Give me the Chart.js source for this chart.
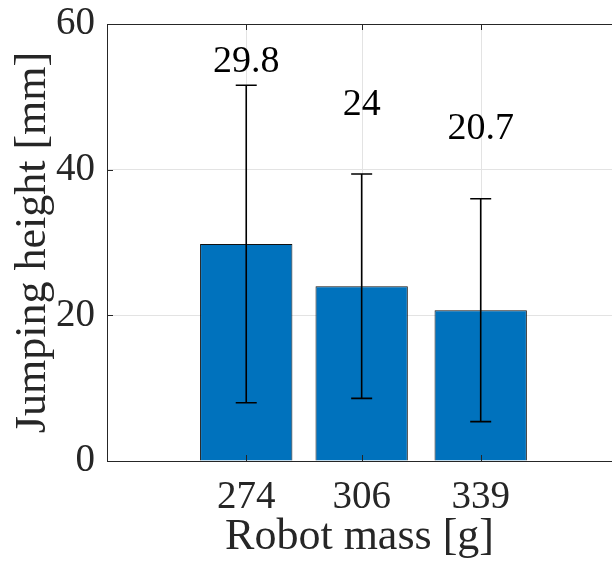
<!DOCTYPE html>
<html>
<head>
<meta charset="utf-8">
<script src="https://cdn.jsdelivr.net/npm/chart.js@4"></script>
<style>
  html, body { margin: 0; background: #fff; overflow: hidden; }
  canvas { display: block; }
</style>
</head>
<body>
<canvas id="myChart" width="612" height="569"></canvas>
<script>
let masses = [274, 306, 339];
let heights = [29.8, 24, 20.7];
let errors = [21.8, 15.4, 15.3];
let label_y = [54.8, 48.9, 45.6];
let y_ticks = [0, 20, 40, 60];

const serif = "'Liberation Serif', 'Times New Roman', serif";
const axisColor = '#262626';
const gridColor = '#e3e3e3';

// vertical grid lines behind the bars
const vgrid = {
  id: 'vgrid',
  beforeDatasetsDraw(chart) {
    const ctx = chart.ctx;
    const x = chart.scales.x;
    const area = chart.chartArea;
    ctx.save();
    ctx.strokeStyle = gridColor;
    ctx.lineWidth = 1;
    ctx.beginPath();
    masses.forEach(function(m) {
      const px = Math.round(x.getPixelForValue(m)) + 0.5;
      ctx.moveTo(px, area.top); ctx.lineTo(px, area.bottom);
    });
    ctx.stroke();
    ctx.restore();
  }
};

// error bars, value labels, top border and inner tick marks
const extras = {
  id: 'extras',
  afterDatasetsDraw(chart) {
    const ctx = chart.ctx;
    const x = chart.scales.x;
    const y = chart.scales.y;
    const area = chart.chartArea;
    ctx.save();

    ctx.strokeStyle = '#000';
    ctx.lineWidth = 1.6;
    for (let i = 0; i < masses.length; i++) {
      const px = x.getPixelForValue(masses[i]);
      const top = y.getPixelForValue(heights[i] + errors[i]);
      const bot = y.getPixelForValue(heights[i] - errors[i]);
      ctx.beginPath();
      ctx.moveTo(px, top); ctx.lineTo(px, bot);
      ctx.moveTo(px - 10.5, top); ctx.lineTo(px + 10.5, top);
      ctx.moveTo(px - 10.5, bot); ctx.lineTo(px + 10.5, bot);
      ctx.stroke();
    }

    ctx.fillStyle = '#000';
    ctx.font = '38px ' + serif;
    ctx.textAlign = 'center';
    ctx.textBaseline = 'middle';
    for (let i = 0; i < masses.length; i++) {
      ctx.fillText(String(heights[i]), x.getPixelForValue(masses[i]), y.getPixelForValue(label_y[i]));
    }

    ctx.strokeStyle = axisColor;
    ctx.lineWidth = 1;
    ctx.beginPath();
    ctx.moveTo(area.left, area.top + 0.5);
    ctx.lineTo(area.right + 5, area.top + 0.5);
    masses.forEach(function(m) {
      const px = Math.round(x.getPixelForValue(m)) + 0.5;
      ctx.moveTo(px, area.bottom); ctx.lineTo(px, area.bottom - 6);
      ctx.moveTo(px, area.top); ctx.lineTo(px, area.top + 6);
    });
    y_ticks.forEach(function(v) {
      const py = Math.round(y.getPixelForValue(v)) + 0.5;
      ctx.moveTo(area.left, py); ctx.lineTo(area.left + 6, py);
    });
    ctx.stroke();
    ctx.restore();
  }
};

let data = {
  datasets: [{
    data: masses.map(function(m, i) { return { x: m, y: heights[i] }; }),
    backgroundColor: '#0072BD',
    borderColor: '#111111',
    borderWidth: 1,
    categoryPercentage: 1,
    barPercentage: 0.8
  }]
};

let config = {
  type: 'bar',
  data: data,
  options: {
    responsive: false,
    animation: false,
    layout: { padding: { top: 24, right: 0, left: 0, bottom: 0 } },
    plugins: { legend: { display: false }, tooltip: { enabled: false } },
    scales: {
      x: {
        type: 'linear',
        min: 235.4,
        max: 375.4,
        offset: false,
        afterBuildTicks: function(s) { s.ticks = masses.map(function(v) { return { value: v }; }); },
        afterFit: function(s) { s.height = 108; s.paddingLeft = 0; s.paddingRight = 0; },
        grid: { display: false, drawTicks: false, offset: false },
        border: { color: axisColor, width: 1 },
        ticks: { font: { family: serif, size: 39 }, color: axisColor, padding: 13,
                 callback: function(v) { return String(v); } },
        title: { display: true, text: 'Robot mass [g]', font: { family: serif, size: 44 },
                 color: axisColor, padding: { top: 0, bottom: 5 } }
      },
      y: {
        min: 0,
        max: 60,
        afterBuildTicks: function(s) { s.ticks = y_ticks.map(function(v) { return { value: v }; }); },
        afterFit: function(s) { s.width = 107; s.paddingTop = 0; s.paddingBottom = 0; },
        grid: { color: gridColor, drawTicks: false },
        border: { color: axisColor, width: 1 },
        ticks: { font: { family: serif, size: 39 }, color: axisColor, padding: 12 },
        title: { display: true, text: 'Jumping height [mm]', font: { family: serif, size: 44 },
                 color: axisColor, padding: { top: 7, bottom: 0 } }
      }
    }
  },
  plugins: [vgrid, extras]
};

let myChart = new Chart(document.getElementById('myChart'), config);
</script>
</body>
</html>
